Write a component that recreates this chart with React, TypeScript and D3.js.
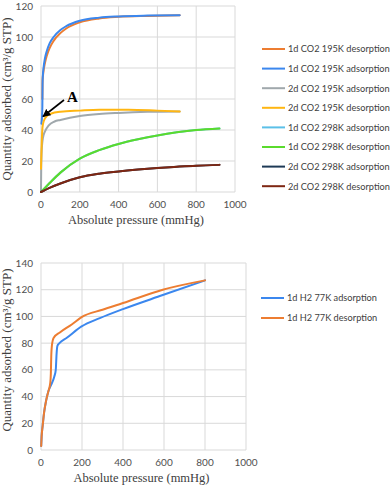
import React from "react";
import * as d3 from "d3";

type Pt = [number, number];

// ---- Top chart (CO2) ----
const co2Names = [
  "1d CO2 195K desorption",
  "1d CO2 195K adsorption",
  "2d CO2 195K adsorption",
  "2d CO2 195K desorption",
  "1d CO2 298K adsorption",
  "1d CO2 298K desorption",
  "2d CO2 298K adsorption",
  "2d CO2 298K desorption",
];
const co2Colors = ["#ED7D31", "#3B87EE", "#A0A8AC", "#FFB612", "#5BC0E8", "#5ADB2C", "#1E3A56", "#7E2612"];

const co2_1d195des: Pt[] = [[7, 60], [8, 72], [12, 77], [20, 83], [30, 88], [45, 93], [65, 97.5], [100, 102.5], [130, 105.5], [200, 109.5], [300, 112], [400, 113], [550, 113.6], [715, 114]];
const co2_1d195ads: Pt[] = [[2, 44], [5, 48], [7, 55], [8, 70], [10, 76], [13, 80], [20, 86], [30, 91], [45, 96], [65, 100], [100, 104.5], [130, 107], [200, 110.5], [300, 112.5], [400, 113.3], [550, 113.8], [715, 114]];
const co2_2d195ads: Pt[] = [[0, 0], [1, 15], [3, 25], [6, 31], [10, 35], [20, 39], [40, 43], [70, 45.5], [100, 46.5], [200, 49], [300, 50.3], [400, 51], [550, 51.7], [715, 52]];
const co2_2d195des: Pt[] = [[0, 15], [2, 25], [4, 33], [8, 42], [15, 46], [30, 49], [50, 50.5], [100, 51.8], [200, 52.5], [300, 53], [450, 53], [600, 52.5], [715, 52]];
const co2_1d298ads: Pt[] = [[0, 0], [50, 6.5], [100, 12.5], [200, 21.5], [300, 27], [400, 31], [500, 34], [600, 36.5], [700, 38.5], [800, 40], [920, 41]];
const co2_1d298des: Pt[] = [[0, 0], [50, 6.5], [100, 12.5], [200, 21.5], [300, 27], [400, 31], [500, 34], [600, 36.5], [700, 38.5], [800, 40], [920, 41]];
const co2_2d298ads: Pt[] = [[0, 0], [50, 3], [100, 5.5], [200, 9.5], [300, 11.8], [400, 13.3], [500, 14.5], [600, 15.5], [700, 16.3], [800, 17], [920, 17.5]];
const co2_2d298des: Pt[] = [[0, 0], [50, 3], [100, 5.5], [200, 9.5], [300, 11.8], [400, 13.3], [500, 14.5], [600, 15.5], [700, 16.3], [800, 17], [920, 17.5]];
const co2Series = [co2_1d195des, co2_1d195ads, co2_2d195ads, co2_2d195des, co2_1d298ads, co2_1d298des, co2_2d298ads, co2_2d298des];

// ---- Bottom chart (H2) ----
const h2Names = ["1d H2 77K adsorption", "1d H2 77K desorption"];
const h2Colors = ["#3B87EE", "#ED7D31"];
const h2Ads: Pt[] = [[1, 3], [3, 10], [8, 18], [15, 28], [25, 37], [36, 44], [50, 49], [65, 55], [72, 60], [76, 72], [80, 78], [90, 80], [126, 84], [198, 92.5], [287, 98.7], [400, 105.5], [594, 116], [800, 127]];
const h2Des: Pt[] = [[1, 3], [3, 10], [8, 18], [15, 28], [25, 37], [36, 44], [45, 50], [48, 57], [50, 70], [53, 78], [62, 84], [92, 88], [150, 94], [198, 99.5], [300, 105], [400, 110], [594, 120], [800, 127]];
const h2Series = [h2Ads, h2Des];

const xTicks = [0, 200, 400, 600, 800, 1000];
const co2YTicks = [0, 20, 40, 60, 80, 100, 120];
const h2YTicks = [0, 20, 40, 60, 80, 100, 120, 140];

const tickFont = "Lato, 'Open Sans', sans-serif";
const titleFont = "'Liberation Serif', 'DejaVu Serif', serif";

function Panel(props: {
  x0: number; x1: number; y0: number; y1: number; yMax: number; yTicks: number[];
  series: Pt[][]; colors: string[]; names: string[]; legX: number; legY: number; legStep: number;
  yTitleCenter: number;
  children?: React.ReactNode;
}) {
  const { x0, x1, y0, y1, yMax, yTicks, series, colors, names, legX, legY, legStep, yTitleCenter } = props;
  const x = d3.scaleLinear().domain([0, 1000]).range([x0, x1]);
  const y = d3.scaleLinear().domain([0, yMax]).range([y0, y1]);
  const line = d3.line<Pt>().x(d => x(d[0])).y(d => y(d[1])).curve(d3.curveMonotoneX);
  return (
    <g>
      {xTicks.map(t => (
        <line key={"gx" + t} x1={x(t)} x2={x(t)} y1={y(0)} y2={y(yMax)} stroke="#D9D9D9" strokeWidth={1} />
      ))}
      {yTicks.map(t => (
        <line key={"gy" + t} x1={x(0)} x2={x(1000)} y1={y(t)} y2={y(t)} stroke="#D9D9D9" strokeWidth={1} />
      ))}
      {xTicks.map(t => (
        <text key={"tx" + t} x={x(t)} y={y(0) + 16} textAnchor="middle" fontFamily={tickFont} fontSize={10} fill="#505050">{t}</text>
      ))}
      {yTicks.map(t => (
        <text key={"ty" + t} x={x(0) - 8} y={y(t) + 3.5} textAnchor="end" fontFamily={tickFont} fontSize={10} fill="#505050">{t}</text>
      ))}
      {series.map((s, i) => (
        <path key={"s" + i} d={line(s) || ""} fill="none" stroke={colors[i]} strokeWidth={2} strokeLinejoin="round" strokeLinecap="round" />
      ))}
      {names.map((n, i) => (
        <g key={"l" + i}>
          <line x1={legX} x2={legX + 23} y1={legY + i * legStep} y2={legY + i * legStep} stroke={colors[i]} strokeWidth={2} />
          <text x={legX + 26} y={legY + i * legStep + 3.3} fontFamily={tickFont} fontSize={9.2} fill="#404040">{n}</text>
        </g>
      ))}
      <text x={(x0 + x(1000)) / 2 - 2} y={y(0) + 32} textAnchor="middle" fontFamily={titleFont} fontSize={12.5} fill="#404040">Absolute pressure (mmHg)</text>
      <text transform={`translate(11,${yTitleCenter}) rotate(-90)`} textAnchor="middle" fontFamily={titleFont} fontSize={13} fill="#404040">Quantity adsorbed (cm³/g STP)</text>
      {props.children}
    </g>
  );
}

export default function App() {
  return (
    <svg width={392} height={489} style={{ position: "absolute", left: 0, top: 0 }}>
      <defs>
        <marker id="ah" viewBox="0 0 10 10" refX="9" refY="5" markerWidth="5" markerHeight="5" orient="auto">
          <path d="M0,0 L10,5 L0,10 z" fill="#000" />
        </marker>
      </defs>
      <Panel x0={41} x1={235} y0={192} y1={6} yMax={120} yTicks={co2YTicks} series={co2Series} colors={co2Colors} names={co2Names} legX={262} legY={49} legStep={19.6} yTitleCenter={99}>
        <line x1={64} y1={100} x2={43} y2={116.5} stroke="#000" strokeWidth={1.6} markerEnd="url(#ah)" />
        <text x={72.5} y={102} textAnchor="middle" fontFamily={titleFont} fontWeight="bold" fontSize={15} fill="#000">A</text>
      </Panel>
      <Panel x0={41} x1={246} y0={450} y1={263} yMax={140} yTicks={h2YTicks} series={h2Series} colors={h2Colors} names={h2Names} legX={261} legY={298} legStep={20} yTitleCenter={350} />
    </svg>
  );
}
